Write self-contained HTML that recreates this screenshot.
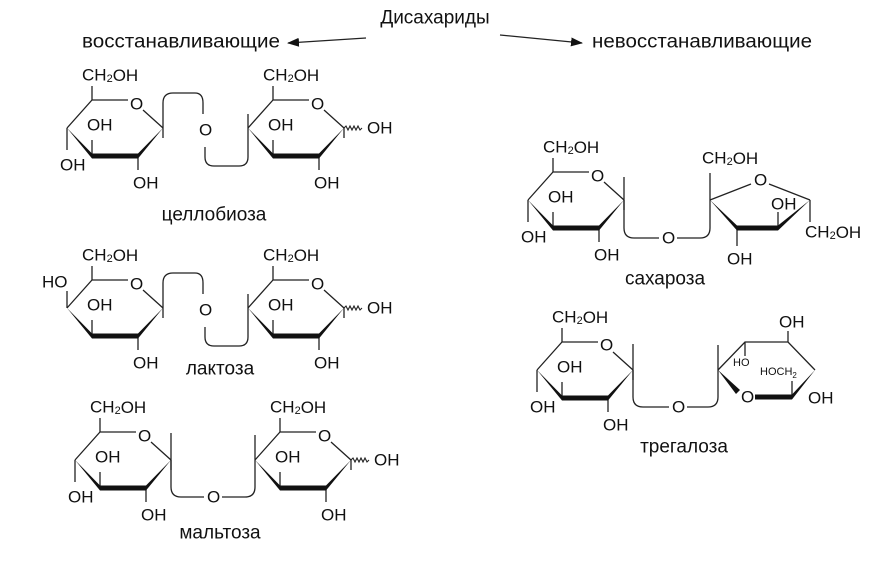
<!DOCTYPE html>
<html><head><meta charset="utf-8"><style>
html,body{margin:0;padding:0;background:#fff}
svg{display:block}
text{font-family:"Liberation Sans",sans-serif;font-size:17px;fill:#111;dominant-baseline:central}
.s{font-size:11px}
.l{font-size:19px}
</style></head><body>
<svg width="891" height="561" viewBox="0 0 891 561" xmlns="http://www.w3.org/2000/svg">
<defs>
<marker id="ah" markerWidth="12" markerHeight="9" refX="11" refY="4.5" orient="auto" markerUnits="userSpaceOnUse">
<path d="M0,0 L12,4.5 L0,9 z" fill="#111"/></marker>
<g id="ring" stroke="#222" fill="none">
<path d="M0,0 L25,-28 L61,-28 M76,-18 L96,0" stroke-width="1.3"/>
<path d="M25,-28 V-42 M25,28 V12 M71,28 V42 M96,0 V10" stroke-width="1.3"/>
<polygon points="0,0 25,25.5 25,30.5" fill="#111" stroke="none"/>
<polygon points="96,0 71,25.5 71,30.5" fill="#111" stroke="none"/>
<rect x="25" y="25.5" width="46" height="5" fill="#111" stroke="none"/>
</g>
<path id="wavy" d="M96,0 l2,-2 l2,4 l2,-4 l2,4 l2,-4 l2,4 l2,-4 l2,4 l2,-2" stroke="#222" stroke-width="1.1" fill="none"/>
</defs>

<!-- header -->
<text x="435" y="18" text-anchor="middle" class="l">Дисахариды</text>
<text x="82" y="42" class="l" textLength="198" lengthAdjust="spacingAndGlyphs">восстанавливающие</text>
<text x="592" y="42" class="l" textLength="220" lengthAdjust="spacingAndGlyphs">невосстанавливающие</text>
<path d="M366,38 L288,43" stroke="#222" stroke-width="1.2" marker-end="url(#ah)"/>
<path d="M500,35 L582,43" stroke="#222" stroke-width="1.2" marker-end="url(#ah)"/>

<!-- cellobiose -->
<use href="#ring" x="67" y="128"/>
<use href="#ring" x="248" y="128"/>
<use href="#wavy" x="248" y="128"/>
<path d="M67,128 V150" stroke="#222" stroke-width="1.3"/>
<path d="M163,128 V103 Q163,93 173,93 H195 Q203,93 203,103 V114 M205,147 V157 Q205,166 214,166 H239 Q248,166 248,157 V114" stroke="#222" stroke-width="1.3" fill="none"/>
<text x="130" y="104">O</text><text x="311" y="104">O</text>
<text x="199" y="130">O</text>
<text x="82" y="75">CH<tspan class="s" dy="4">2</tspan><tspan dy="-4">OH</tspan></text>
<text x="263" y="75">CH<tspan class="s" dy="4">2</tspan><tspan dy="-4">OH</tspan></text>
<text x="87" y="125">OH</text><text x="133" y="183">OH</text><text x="60" y="165">OH</text>
<text x="268" y="125">OH</text><text x="314" y="183">OH</text><text x="367" y="128">OH</text>
<text x="214" y="215" text-anchor="middle" class="l">целлобиоза</text>

<!-- lactose -->
<use href="#ring" x="67" y="308"/>
<use href="#ring" x="248" y="308"/>
<use href="#wavy" x="248" y="308"/>
<path d="M67,308 V291" stroke="#222" stroke-width="1.3"/>
<path d="M163,308 V283 Q163,273 173,273 H195 Q203,273 203,283 V294 M205,327 V337 Q205,346 214,346 H239 Q248,346 248,337 V294" stroke="#222" stroke-width="1.3" fill="none"/>
<text x="130" y="284">O</text><text x="311" y="284">O</text>
<text x="199" y="310">O</text>
<text x="82" y="255">CH<tspan class="s" dy="4">2</tspan><tspan dy="-4">OH</tspan></text>
<text x="263" y="255">CH<tspan class="s" dy="4">2</tspan><tspan dy="-4">OH</tspan></text>
<text x="42" y="282">HO</text><text x="87" y="305">OH</text><text x="133" y="363">OH</text>
<text x="268" y="305">OH</text><text x="314" y="363">OH</text><text x="367" y="308">OH</text>
<text x="220" y="369" text-anchor="middle" class="l">лактоза</text>

<!-- maltose -->
<use href="#ring" x="75" y="460"/>
<use href="#ring" x="255" y="460"/>
<use href="#wavy" x="255" y="460"/>
<path d="M75,460 V482 M171,460 V433 M255,460 V435" stroke="#222" stroke-width="1.3"/>
<path d="M171,460 V487 Q171,497 181,497 H204 M222,497 H245 Q255,497 255,487 V460" stroke="#222" stroke-width="1.3" fill="none"/>
<text x="138" y="436">O</text><text x="318" y="436">O</text>
<text x="207" y="497">O</text>
<text x="90" y="407">CH<tspan class="s" dy="4">2</tspan><tspan dy="-4">OH</tspan></text>
<text x="270" y="407">CH<tspan class="s" dy="4">2</tspan><tspan dy="-4">OH</tspan></text>
<text x="95" y="457">OH</text><text x="141" y="515">OH</text><text x="68" y="497">OH</text>
<text x="275" y="457">OH</text><text x="321" y="515">OH</text><text x="374" y="460">OH</text>
<text x="220" y="533" text-anchor="middle" class="l">мальтоза</text>

<!-- sucrose -->
<use href="#ring" x="528" y="200"/>
<path d="M528,200 V222 M624,200 V177" stroke="#222" stroke-width="1.3"/>
<path d="M624,200 V228 Q624,238 634,238 H659 M677,238 H700 Q710,238 710,228 V200" stroke="#222" stroke-width="1.3" fill="none"/>
<text x="591" y="176">O</text><text x="662" y="238">O</text>
<text x="543" y="147">CH<tspan class="s" dy="4">2</tspan><tspan dy="-4">OH</tspan></text>
<text x="548" y="197">OH</text><text x="594" y="255">OH</text><text x="521" y="237">OH</text>
<path d="M710,200 V173 M710,200 L751,184 M769,184 L810,200 M778,228 V212 M737,228 V246 M810,200 V222" stroke="#222" stroke-width="1.3" fill="none"/>
<polygon points="710,200 737,225.5 737,230.5" fill="#111"/>
<rect x="737" y="225.5" width="41" height="5" fill="#111"/>
<polygon points="810,200 778,225.5 778,230.5" fill="#111"/>
<text x="702" y="158">CH<tspan class="s" dy="4">2</tspan><tspan dy="-4">OH</tspan></text>
<text x="754" y="180">O</text>
<text x="771" y="204">OH</text>
<text x="727" y="259">OH</text>
<text x="805" y="232">CH<tspan class="s" dy="4">2</tspan><tspan dy="-4">OH</tspan></text>
<text x="665" y="279" text-anchor="middle" class="l">сахароза</text>

<!-- trehalose -->
<use href="#ring" x="537" y="370"/>
<path d="M537,370 V392 M633,370 V344" stroke="#222" stroke-width="1.3"/>
<path d="M633,370 V397 Q633,407 643,407 H669 M687,407 H708 Q718,407 718,397 V345" stroke="#222" stroke-width="1.3" fill="none"/>
<text x="600" y="345">O</text><text x="672" y="407">O</text>
<text x="552" y="317">CH<tspan class="s" dy="4">2</tspan><tspan dy="-4">OH</tspan></text>
<text x="557" y="367">OH</text><text x="603" y="425">OH</text><text x="530" y="407">OH</text>
<path d="M718,370 L745,342 H788 L815,370 M788,342 V331 M745,342 V356 M792,397 V381" stroke="#222" stroke-width="1.3" fill="none"/>
<polygon points="718,370 740,390 736,394" fill="#111"/>
<rect x="755" y="394.5" width="37" height="5" fill="#111"/>
<polygon points="815,370 792,394.5 792,399.5" fill="#111"/>
<text x="741" y="397">O</text>
<text x="779" y="322">OH</text>
<text x="733" y="363" class="s">HO</text>
<text x="760" y="372" class="s">HOCH<tspan font-size="8" dy="3">2</tspan></text>
<text x="808" y="398">OH</text>
<text x="684" y="447" text-anchor="middle" class="l">трегалоза</text>
</svg>
</body></html>
